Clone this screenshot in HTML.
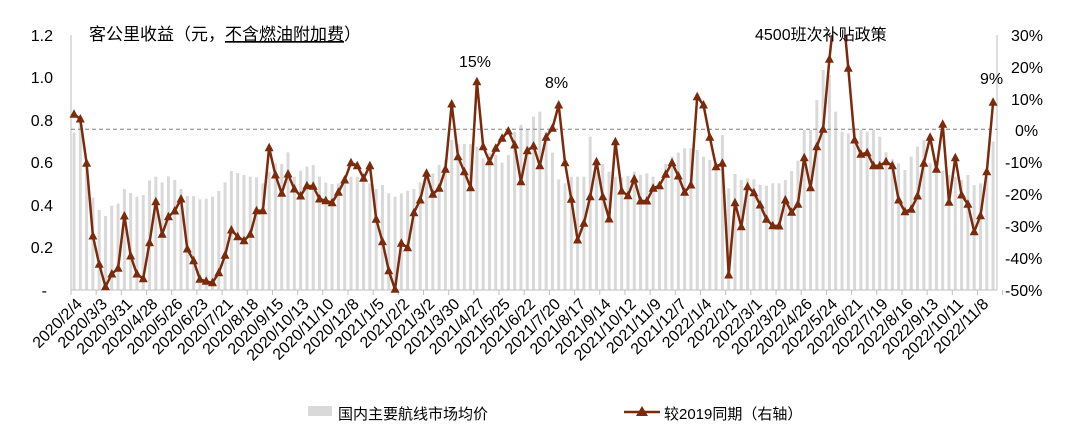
<!DOCTYPE html>
<html><head><meta charset="utf-8"><style>
body{margin:0;background:#fff;width:1080px;height:438px;overflow:hidden}
text{font-family:"Liberation Sans","Noto Sans CJK SC",sans-serif;fill:#000}
</style></head><body>
<svg id="s" width="1080" height="438" xmlns="http://www.w3.org/2000/svg">
<defs><clipPath id="c"><rect x="60" y="35" width="950" height="260"/></clipPath></defs>
<g id="bars"></g>
<line x1="71" y1="35" x2="71" y2="290" stroke="#bfbfbf"/>
<line x1="997" y1="35" x2="997" y2="290" stroke="#bfbfbf"/>
<line x1="71" y1="290" x2="997" y2="290" stroke="#bfbfbf"/>
<g id="ticks"></g>
<line x1="71" y1="129.3" x2="997" y2="129.3" stroke="#808080" stroke-dasharray="4,3"/>
<g id="line" clip-path="url(#c)"></g>
<g font-size="16" text-anchor="end">
<text x="53" y="41">1.2</text><text x="53" y="83">1.0</text><text x="53" y="126">0.8</text><text x="53" y="168">0.6</text><text x="53" y="211">0.4</text><text x="53" y="253">0.2</text><text x="47" y="296">-</text>
</g>
<g font-size="16">
<text x="1011" y="41">30%</text><text x="1011" y="73">20%</text><text x="1011" y="105">10%</text><text x="1015" y="136">0%</text><text x="1005" y="168">-10%</text><text x="1005" y="200">-20%</text><text x="1005" y="232">-30%</text><text x="1005" y="264">-40%</text><text x="1005" y="296">-50%</text>
</g>
<text x="89" y="40" font-size="17">客公里收益（元，<tspan text-decoration="underline">不含燃油附加费</tspan>）</text>
<text x="459" y="67" font-size="16">15%</text>
<text x="545" y="88" font-size="16">8%</text>
<text x="755" y="40" font-size="16">4500班次补贴政策</text>
<text x="980" y="84" font-size="16">9%</text>
<g id="xl" font-size="16" text-anchor="end">
<text>2020/2/4</text><text>2020/3/3</text><text>2020/3/31</text><text>2020/4/28</text><text>2020/5/26</text><text>2020/6/23</text><text>2020/7/21</text><text>2020/8/18</text><text>2020/9/15</text><text>2020/10/13</text><text>2020/11/10</text><text>2020/12/8</text><text>2021/1/5</text><text>2021/2/2</text><text>2021/3/2</text><text>2021/3/30</text><text>2021/4/27</text><text>2021/5/25</text><text>2021/6/22</text><text>2021/7/20</text><text>2021/8/17</text><text>2021/9/14</text><text>2021/10/12</text><text>2021/11/9</text><text>2021/12/7</text><text>2022/1/4</text><text>2022/2/1</text><text>2022/3/1</text><text>2022/3/29</text><text>2022/4/26</text><text>2022/5/24</text><text>2022/6/21</text><text>2022/7/19</text><text>2022/8/16</text><text>2022/9/13</text><text>2022/10/11</text><text>2022/11/8</text>
</g>
<rect x="308" y="406" width="24" height="10" fill="#d9d9d9"/>
<text x="338" y="419" font-size="15">国内主要航线市场均价</text>
<line x1="624" y1="412" x2="660" y2="412" stroke="#7b2a0c" stroke-width="2.5"/>
<polygon points="642,406 636,416 648,416" fill="#7b2a0c"/>
<text x="664" y="419" font-size="15">较2019同期（右轴）</text>
</svg>
<script>
var L=[114.3,119,163.3,236,264.3,286.7,274,268.3,216,256,274,278.7,242.7,201.7,234.3,216.7,211,199,249,260.7,279.3,281.3,282.7,272.7,255.3,230,236.7,240.7,234.3,210.7,210.7,147.7,175,193.3,174,189,196,185.7,186.3,199,200.7,202.7,192.3,180,162.7,165.7,
178.3,165.7,219.3,241.7,270.7,289.3,243.3,247.7,212.7,200,173.3,194.3,188.3,169.3,104,156.7,171.7,187.7,81.7,146.7,161.7,148.3,138.3,131,145,181.7,150.7,146,165.7,137.3,128.3,105,162.7,199.3,240,223.3,196.7,161.7,196.7,219,141.7,191,195.7,179,201,201,188.3,185.7,174.3,162.7,176,192.3,185,96.7,105,137.3,166.7,
163.3,275,202.7,226.7,186.7,192.7,205,219.3,225.7,226,200,212.3,204.3,157.7,187.7,146.7,129.3,59.3,0,0,68.3,140,154.3,152.7,165.7,165.7,161.7,165.7,200,211.7,209.3,196,163.3,137.3,169.3,124.3,202.3,157.7,195,204.3,231.7,215.7,171.7,102.3];
var B=[338,300,420,533,570,588,557,551,507,519,530,525,481,470,487,469,480,507,528,528,538,536,530,513,487,453,459,465,470,472,490,455,430,432,397,470,452,440,435,470,488,492,490,470,470,470,
485,490,507,495,520,530,520,512,507,487,470,460,435,420,360,372,372,372,380,415,400,405,428,405,335,315,330,290,275,335,398,478,490,470,470,470,350,452,432,455,470,472,468,455,465,460,470,490,432,410,398,385,385,390,410,420,440,
345,505,462,480,475,478,495,497,490,490,480,453,422,330,330,240,150,165,275,335,340,325,330,335,330,350,397,418,430,450,410,380,360,430,440,452,465,470,480,465,495,490,470,365];
var X=function(i){return 74+i*6.295};
var h='';
for(var i=0;i<B.length;i++){var y=20+B[i]/3;h+='<rect x="'+(X(i)-1.5)+'" y="'+y+'" width="3" height="'+(290-y)+'" fill="#d9d9d9"/>';}
document.getElementById('bars').innerHTML=h;
var t='';for(var k=0;k<=37;k++){var x=71+k*25.18;t+='<line x1="'+x+'" y1="290" x2="'+x+'" y2="295" stroke="#bfbfbf"/>';}
document.getElementById('ticks').innerHTML=t;
var p=L.map(function(y,i){return X(i).toFixed(1)+','+y}).join(' ');
var g='<polyline points="'+p+'" fill="none" stroke="#7b2a0c" stroke-width="2.5" stroke-linejoin="round"/>';
L.forEach(function(y,i){var x=X(i);g+='<polygon points="'+x+','+(y-5)+' '+(x-4.5)+','+(y+3.5)+' '+(x+4.5)+','+(y+3.5)+'" fill="#7b2a0c"/>';});
document.getElementById('line').innerHTML=g;
var xs=document.getElementById('xl').children;
for(var k=0;k<xs.length;k++){var x=X(4*k)+9;xs[k].setAttribute('transform','translate('+x+',305) rotate(-45)');}
</script>
</body></html>
